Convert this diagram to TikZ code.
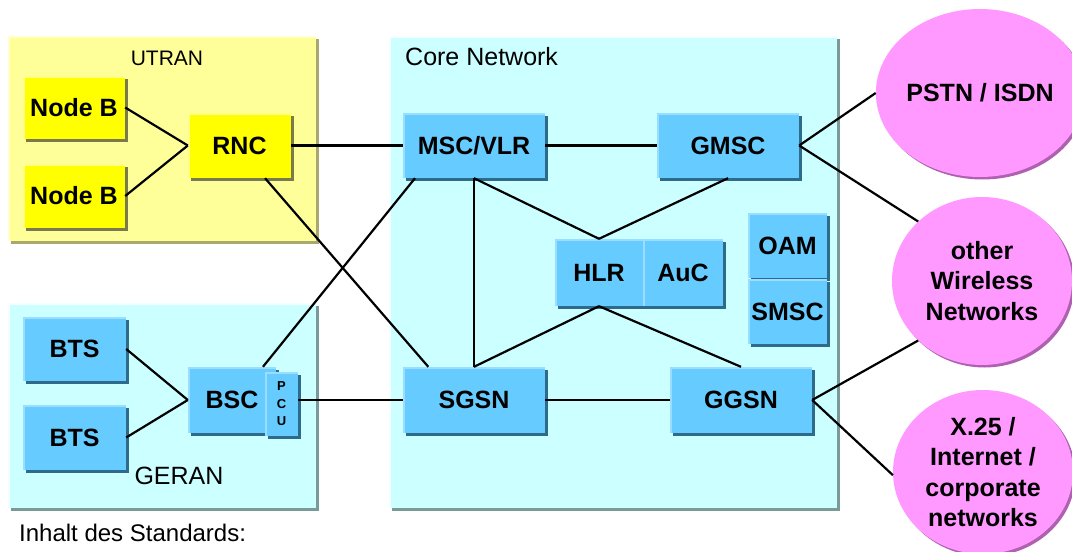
\documentclass[tikz,border=0pt]{standalone}
\usepackage{fontspec}
\setmainfont{Liberation Sans}
\usetikzlibrary{shapes.geometric,shadows}
\definecolor{ybg}{HTML}{FFFF99}
\definecolor{ynode}{HTML}{FFFF00}
\definecolor{cbg}{HTML}{CCFFFF}
\definecolor{bnode}{HTML}{66CCFF}
\definecolor{pnode}{HTML}{FF99FF}
\definecolor{bshad}{HTML}{2E6A8A}
\definecolor{yshad}{HTML}{7A7A50}
\definecolor{ybgshad}{HTML}{A8A870}
\definecolor{cbgshad}{HTML}{7A9A9A}
\definecolor{pshad}{HTML}{B060B0}
\definecolor{bhl}{HTML}{99DDFF}
\definecolor{yhl}{HTML}{FFFF88}
\definecolor{bghl}{HTML}{F4FFFF}
\definecolor{ybghl}{HTML}{FFFFCC}
\tikzset{
  hlbox/.style={path picture={\draw[line width=3pt,#1] (path picture bounding box.south west) |- (path picture bounding box.north east);}},
  boldfont/.style={font=\bfseries\fontsize{25}{30}\selectfont},
  bluebox/.style={rectangle, fill=bnode, inner sep=0pt, hlbox=bhl, boldfont,
    general shadow={fill=bshad, shadow xshift=2.5pt, shadow yshift=-2.5pt}},
  yelbox/.style={rectangle, fill=ynode, inner sep=0pt, hlbox=yhl, boldfont,
    general shadow={fill=yshad, shadow xshift=2.5pt, shadow yshift=-2.5pt}},
  ybgbox/.style={rectangle, fill=ybg, inner sep=0pt, hlbox=ybghl,
    general shadow={fill=ybgshad, shadow xshift=3pt, shadow yshift=-3pt}},
  cbgbox/.style={rectangle, fill=cbg, inner sep=0pt, hlbox=bghl,
    general shadow={fill=cbgshad, shadow xshift=3pt, shadow yshift=-3pt}},
  net/.style={ellipse, fill=pnode, inner sep=0pt, align=center,
    font=\bfseries\fontsize{25}{30.5}\selectfont,
    general shadow={fill=pshad, shadow xshift=2.5pt, shadow yshift=-2.5pt}},
  plain/.style={inner sep=0pt, font=\fontsize{25}{30}\selectfont},
  link/.style={line width=2.2pt, black},
}
\begin{document}
\begin{tikzpicture}[x=1pt,y=-1pt]
\useasboundingbox (0,0) rectangle (1072,552);
% background regions
\node[ybgbox, minimum width=308pt, minimum height=205pt] (utran) at (162,138.5) {};
\node[cbgbox, minimum width=448pt, minimum height=472pt] (core) at (613,272) {};
\node[cbgbox, minimum width=308pt, minimum height=205pt] (geran) at (162,405.5) {};
\node[plain, font=\fontsize{21}{25}\selectfont] (utranlbl) at (167,58) {UTRAN};
\node[plain, anchor=west] (corelbl) at (405,57) {Core Network};
\node[plain] (geranlbl) at (179,476) {GERAN};
\node[plain, font=\fontsize{24}{28}\selectfont, anchor=west] (inhalt) at (19,533) {Inhalt des Standards:};
% UTRAN
\node[yelbox, minimum width=102pt, minimum height=63pt] (nb1) at (74,107.5) {Node B};
\node[yelbox, minimum width=102pt, minimum height=64pt] (nb2) at (74,196) {Node B};
\node[yelbox, minimum width=103pt, minimum height=65pt] (rnc) at (239.5,145.5) {RNC};
% GERAN
\node[bluebox, minimum width=103pt, minimum height=64pt] (bts1) at (74.5,349) {BTS};
\node[bluebox, minimum width=103pt, minimum height=65pt] (bts2) at (74.5,437.5) {BTS};
\node[bluebox, minimum width=88pt, minimum height=66pt] (bsc) at (232,400) {BSC};
\node[bluebox, minimum width=33pt, minimum height=64pt, align=center,
  font=\bfseries\fontsize{13}{17.5}\selectfont] (pcu) at (281.5,404) {P\\C\\U};
% Core network
\node[bluebox, minimum width=142pt, minimum height=65pt] (msc) at (474,145.5) {MSC/VLR};
\node[bluebox, minimum width=142pt, minimum height=65pt] (gmsc) at (728,145.5) {GMSC};
\node[bluebox, minimum width=88pt, minimum height=67pt] (hlr) at (599,272.5) {HLR};
\node[bluebox, minimum width=80pt, minimum height=67pt] (auc) at (683,272.5) {AuC};
\node[bluebox, minimum width=79pt, minimum height=65pt] (oam) at (787.5,245.5) {OAM};
\node[bluebox, minimum width=79pt, minimum height=65pt] (smsc) at (787.5,311.5) {SMSC};
\node[bluebox, minimum width=142pt, minimum height=66pt] (sgsn) at (474,400) {SGSN};
\node[bluebox, minimum width=142pt, minimum height=66pt] (ggsn) at (741,400) {GGSN};
% external networks
\node[net, minimum width=184pt, minimum height=168pt] (pstn) at (980,93) {PSTN / ISDN};
\node[net, minimum width=180pt, minimum height=168pt] (wl) at (982,281) {other\\Wireless\\Networks};
\node[net, minimum width=180pt, minimum height=164pt] (x25) at (983,472) {X.25 /\\Internet /\\corporate\\networks};
% connectors
\draw[link] (nb1.east) -- (rnc.west);
\draw[link] (nb2.east) -- (rnc.west);
\draw[link] (rnc.east) -- (msc.west);
\draw[link] (rnc.-52) -- (sgsn.144);
\draw[link] (bts1.east) -- (bsc.west);
\draw[link] (bts2.east) -- (bsc.west);
\draw[link] (msc.-151) -- (bsc.47);
\draw[link] (sgsn.west) -- (sgsn.west -| pcu.east);
\draw[link] (msc.east) -- (gmsc.west);
\draw[link] (msc.south) -- (sgsn.north);
\draw[link] (msc.south) -- (hlr.north);
\draw[link] (gmsc.south) -- (hlr.north);
\draw[link] (hlr.south) -- (sgsn.north);
\draw[link] (hlr.south) -- (ggsn.north);
\draw[link] (sgsn.east) -- (ggsn.west);
\draw[link] (gmsc.east) -- (pstn.west);
\draw[link] (gmsc.east) -- (wl.137);
\draw[link] (ggsn.east) -- (wl.223);
\draw[link] (ggsn.east) -- (x25.182);
\end{tikzpicture}
\end{document}
